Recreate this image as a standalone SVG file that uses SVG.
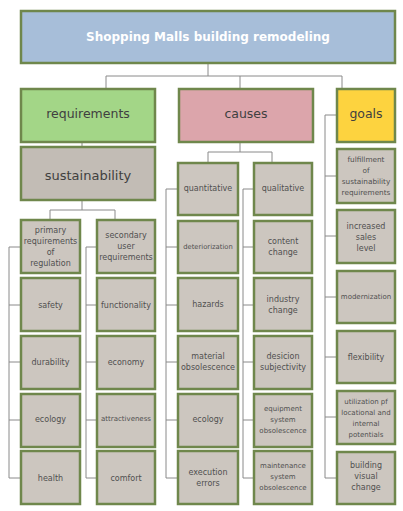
<svg xmlns="http://www.w3.org/2000/svg" width="403" height="511" viewBox="0 0 403 511">
<style>
.b{fill:#ccc6bf;stroke:#6f874c;stroke-width:2.5}
.t{font-family:"DejaVu Sans",Verdana,sans-serif;fill:#505050;text-anchor:middle;font-size:8px}
.m{font-size:12.5px;fill:#404040}
.c path{fill:none;stroke:#8a8a8a;stroke-width:1}
</style>
<rect width="403" height="511" fill="#fff"/>
<g class="c" id="connectors">
<path d="M208 63V76M106 76H342M106 76V89M240 76V89M342 76V89"/>
<path d="M82 142V147M82 200V210M50 210H115M50 210V220M115 210V220"/>
<path d="M21 247H9V478H21M9 305H21M9 362H21M9 420H21"/>
<path d="M97 247H86V478H97M86 305H97M86 362H97M86 420H97"/>
<path d="M240 142V152M208 152H272M208 152V163M272 152V163"/>
<path d="M178 189H166V478H178M166 247H178M166 305H178M166 362H178M166 420H178"/>
<path d="M254 189H243V478H254M243 247H254M243 305H254M243 362H254M243 420H254"/>
<path d="M337 115H325V478H337M325 176H337M325 236H337M325 297H337M325 357H337M325 417H337"/>
</g>
<g id="root"><rect x="21" y="11" width="374" height="52" fill="#a7bed9" stroke="#6f874c" stroke-width="2.5"/><text class="t" x="208" y="41" style="font-size:12px;font-weight:bold;fill:#fff">Shopping Malls building remodeling</text></g>
<g id="requirements"><rect x="21" y="89" width="134" height="53" fill="#a3d687" stroke="#6f874c" stroke-width="2.5"/><text class="t m" x="88" y="118">requirements</text></g>
<g id="causes"><rect x="179" y="89" width="134" height="53" fill="#dca5ab" stroke="#6f874c" stroke-width="2.5"/><text class="t m" x="246" y="118">causes</text></g>
<g id="goals"><rect x="337" y="89" width="58" height="53" fill="#fdd33f" stroke="#6f874c" stroke-width="2.5"/><text class="t m" x="366" y="118">goals</text></g>
<g id="sustainability"><rect x="21" y="147" width="134" height="53" fill="#c2bcb5" stroke="#6f874c" stroke-width="2.5"/><text class="t" x="88" y="180" style="font-size:13px;fill:#404040">sustainability</text></g>

<g id="primary"><rect class="b" x="21" y="220" width="59" height="53"/><text class="t" x="50.5" y="233"><tspan x="50.5">primary</tspan><tspan x="50.5" dy="11">requirements</tspan><tspan x="50.5" dy="11">of</tspan><tspan x="50.5" dy="11">regulation</tspan></text></g>
<g id="safety"><rect class="b" x="21" y="278" width="59" height="53"/><text class="t" x="50.5" y="308">safety</text></g>
<g id="durability"><rect class="b" x="21" y="336" width="59" height="53"/><text class="t" x="50.5" y="365">durability</text></g>
<g id="ecology1"><rect class="b" x="21" y="394" width="59" height="53"/><text class="t" x="50.5" y="422">ecology</text></g>
<g id="health"><rect class="b" x="21" y="451" width="59" height="53"/><text class="t" x="50.5" y="481">health</text></g>

<g id="secondary"><rect class="b" x="97" y="220" width="58" height="53"/><text class="t" x="126" y="238"><tspan x="126">secondary</tspan><tspan x="126" dy="11">user</tspan><tspan x="126" dy="11">requirements</tspan></text></g>
<g id="functionality"><rect class="b" x="97" y="278" width="58" height="53"/><text class="t" x="126" y="308">functionality</text></g>
<g id="economy"><rect class="b" x="97" y="336" width="58" height="53"/><text class="t" x="126" y="365">economy</text></g>
<g id="attractiveness"><rect class="b" x="97" y="394" width="58" height="53"/><text class="t" x="126" y="421" style="font-size:7px">attractiveness</text></g>
<g id="comfort"><rect class="b" x="97" y="451" width="58" height="53"/><text class="t" x="126" y="481">comfort</text></g>

<g id="quantitative"><rect class="b" x="178" y="163" width="60" height="52"/><text class="t" x="208" y="191">quantitative</text></g>
<g id="deteriorization"><rect class="b" x="178" y="221" width="60" height="52"/><text class="t" x="208" y="249" style="font-size:6.8px">deteriorization</text></g>
<g id="hazards"><rect class="b" x="178" y="278" width="60" height="53"/><text class="t" x="208" y="307">hazards</text></g>
<g id="material"><rect class="b" x="178" y="336" width="60" height="53"/><text class="t" x="208" y="359"><tspan x="208">material</tspan><tspan x="208" dy="11">obsolescence</tspan></text></g>
<g id="ecology2"><rect class="b" x="178" y="394" width="60" height="53"/><text class="t" x="208" y="422">ecology</text></g>
<g id="execution"><rect class="b" x="178" y="451" width="60" height="53"/><text class="t" x="208" y="475"><tspan x="208">execution</tspan><tspan x="208" dy="11">errors</tspan></text></g>

<g id="qualitative"><rect class="b" x="254" y="163" width="58" height="52"/><text class="t" x="283" y="191">qualitative</text></g>
<g id="content"><rect class="b" x="254" y="221" width="58" height="52"/><text class="t" x="283" y="244"><tspan x="283">content</tspan><tspan x="283" dy="11">change</tspan></text></g>
<g id="industry"><rect class="b" x="254" y="278" width="58" height="53"/><text class="t" x="283" y="302"><tspan x="283">industry</tspan><tspan x="283" dy="11">change</tspan></text></g>
<g id="desicion"><rect class="b" x="254" y="336" width="58" height="53"/><text class="t" x="283" y="359"><tspan x="283">desicion</tspan><tspan x="283" dy="11">subjectivity</tspan></text></g>
<g id="equipment"><rect class="b" x="254" y="394" width="58" height="53"/><text class="t" x="283" y="411" style="font-size:7px"><tspan x="283">equipment</tspan><tspan x="283" dy="11">system</tspan><tspan x="283" dy="11">obsolescence</tspan></text></g>
<g id="maintenance"><rect class="b" x="254" y="451" width="58" height="53"/><text class="t" x="283" y="468" style="font-size:7px"><tspan x="283">maintenance</tspan><tspan x="283" dy="11">system</tspan><tspan x="283" dy="11">obsolescence</tspan></text></g>

<g id="fulfillment"><rect class="b" x="337" y="149" width="58" height="54"/><text class="t" x="366" y="162" style="font-size:7.3px"><tspan x="366">fulfillment</tspan><tspan x="366" dy="11">of</tspan><tspan x="366" dy="11">sustainability</tspan><tspan x="366" dy="11">requirements</tspan></text></g>
<g id="increased"><rect class="b" x="337" y="210" width="58" height="53"/><text class="t" x="366" y="229"><tspan x="366">increased</tspan><tspan x="366" dy="11">sales</tspan><tspan x="366" dy="11">level</tspan></text></g>
<g id="modernization"><rect class="b" x="337" y="271" width="58" height="52"/><text class="t" x="366" y="299" style="font-size:7px">modernization</text></g>
<g id="flexibility"><rect class="b" x="337" y="331" width="58" height="52"/><text class="t" x="366" y="360">flexibility</text></g>
<g id="utilization"><rect class="b" x="337" y="391" width="58" height="53"/><text class="t" x="366" y="404" style="font-size:7px"><tspan x="366">utilization pf</tspan><tspan x="366" dy="11">locational and</tspan><tspan x="366" dy="11">internal</tspan><tspan x="366" dy="11">potentials</tspan></text></g>
<g id="building"><rect class="b" x="337" y="452" width="58" height="52"/><text class="t" x="366" y="468"><tspan x="366">building</tspan><tspan x="366" dy="11">visual</tspan><tspan x="366" dy="11">change</tspan></text></g>
</svg>
